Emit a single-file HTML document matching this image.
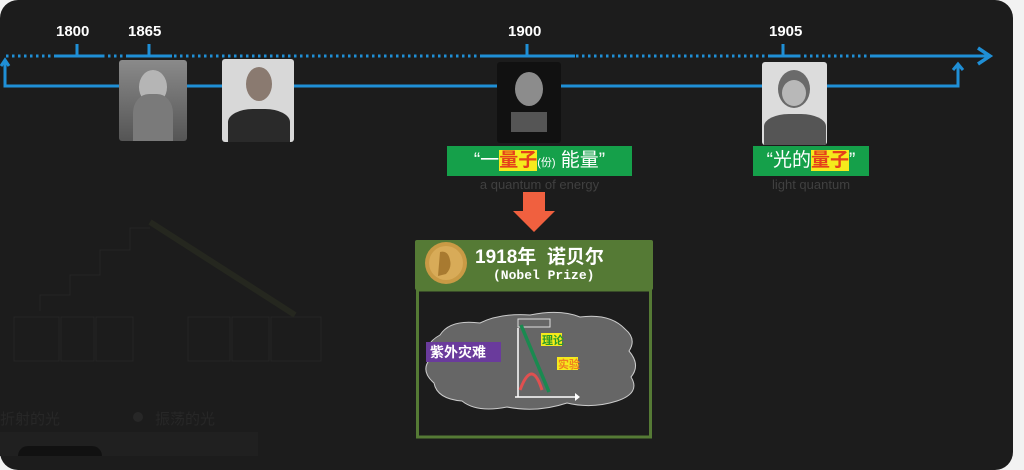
<!DOCTYPE html>
<html><head><meta charset="utf-8"><style>
*{margin:0;padding:0;box-sizing:border-box}
body{width:1024px;height:456px;background:#f2f2f2;overflow:hidden;position:relative;font-family:"Liberation Sans","Noto Sans CJK SC",sans-serif}
#panel{position:absolute;left:0;top:0;width:1013px;height:470px;background:#1c1c1c;border-radius:18px}
.a{position:absolute}
.yr{position:absolute;color:#fff;font-size:15px;font-weight:bold;top:23px}
.ph{position:absolute;border-radius:3px;overflow:hidden}
.lab{position:absolute;background:#15a04a;color:#fff;font-size:19px;text-align:center;line-height:30px;height:30px}
.hl{background:#f5ea1c;color:#e5401b;font-weight:bold}
.sub{position:absolute;color:#404040;font-size:13px;text-align:center}
</style></head><body>
<div id="panel"></div>
<svg class="a" style="left:0;top:0" width="1024" height="456">
 <g stroke="#252525" fill="none" stroke-width="1">
  <rect x="14" y="317" width="45" height="44"/><rect x="61" y="317" width="33" height="44"/><rect x="96" y="317" width="37" height="44"/>
  <rect x="188" y="317" width="42" height="44"/><rect x="232" y="317" width="37" height="44"/><rect x="271" y="317" width="50" height="44"/>
  <polyline points="40,311 40,295 70,295 70,275 100,275 100,250 130,250 130,228 150,228"/>
  <line x1="150" y1="222" x2="295" y2="315" stroke="#25271f" stroke-width="6"/>
 </g>
 <text x="0" y="424" fill="#272727" font-size="15" font-family="Noto Sans CJK SC">折射的光</text>
 <circle cx="138" cy="417" r="5" fill="#272727"/>
 <text x="155" y="424" fill="#272727" font-size="15" font-family="Noto Sans CJK SC">振荡的光</text>
 <rect x="0" y="432" width="258" height="30" fill="#202020"/>
 <rect x="18" y="446" width="84" height="20" rx="10" fill="#111"/>
 <g stroke="#1f8fd6" stroke-width="3" fill="none">
  <line x1="6" y1="56" x2="985" y2="56" stroke-dasharray="2.5 3.5"/>
  <line x1="55" y1="56" x2="102" y2="56"/><line x1="77" y1="44" x2="77" y2="56"/>
  <line x1="126" y1="56" x2="172" y2="56"/><line x1="149" y1="44" x2="149" y2="56"/>
  <line x1="480" y1="56" x2="575" y2="56"/><line x1="527" y1="44" x2="527" y2="56"/>
  <line x1="770" y1="56" x2="798" y2="56"/><line x1="783" y1="44" x2="783" y2="56"/>
  <line x1="872" y1="56" x2="988" y2="56"/>
  <polyline points="978,48 990,56 978,64" stroke-width="3.5"/>
  <polyline points="5,60 5,86 958,86 958,66"/>
  <polyline points="1,66 5,60 9,66"/>
  <polyline points="953,70 958,64 963,70"/>
 </g>
 <polygon points="523,192 545,192 545,211 555,211 534,232 513,211 523,211" fill="#f0603f"/>
 <rect x="415" y="240" width="238" height="50" fill="#557a35" rx="2"/>
 <rect x="417.5" y="290" width="233" height="147" fill="#1c1c1c" stroke="#557a35" stroke-width="3"/>
 <circle cx="446" cy="263" r="21" fill="#c99a45"/>
 <circle cx="446" cy="263" r="17" fill="#d8ab58"/>
 <path d="M440,252 q8,-2 10,8 q2,8 -4,14 l-8,2 z" fill="#a87a30"/>
 <text x="475" y="263" fill="#fff" font-size="19" font-weight="bold" font-family="Liberation Sans,Noto Sans CJK SC" xml:space="preserve">1918年  诺贝尔</text>
 <text x="493" y="279" fill="#fff" font-size="13" font-weight="bold" font-family="Liberation Mono,monospace">(Nobel Prize)</text>
 <path d="M440,335 q10,-16 40,-12 q20,-10 50,-8 q30,-6 50,2 q30,-4 45,12 q12,10 4,22 q12,14 2,26 q10,16 -14,24 q-25,8 -50,2 q-30,10 -60,4 q-30,6 -45,-6 q-25,-2 -28,-18 q-14,-12 -4,-24 q-8,-14 10,-24z" fill="#666" stroke="#ccc" stroke-width="1"/>
 <rect x="518" y="319" width="32" height="8" fill="none" stroke="#ddd" stroke-width="1"/>
 <rect x="426" y="342" width="75" height="20" fill="#6a3b9c"/>
 <text x="430" y="357" fill="#fff" font-size="14" font-weight="bold" font-family="Noto Sans CJK SC">紫外灾难</text>
 <line x1="518" y1="397" x2="518" y2="328" stroke="#fff" stroke-width="1.5"/>
 <line x1="515" y1="397" x2="575" y2="397" stroke="#fff" stroke-width="1.5"/>
 <polygon points="575,393 580,397 575,401" fill="#fff"/>
 <path d="M521,325 L549,392" stroke="#1a8a50" stroke-width="3.5" fill="none"/>
 <path d="M520,390 q12,-32 22,0" stroke="#e05050" stroke-width="3" fill="none"/>
 <rect x="541" y="333" width="21" height="13" fill="#f5ea1c"/>
 <text x="542" y="344" fill="#2a9a2a" font-size="11" font-weight="bold" font-family="Noto Sans CJK SC">理论</text>
 <rect x="557" y="357" width="21" height="13" fill="#f5ea1c"/>
 <text x="558" y="368" fill="#f08020" font-size="11" font-weight="bold" font-family="Noto Sans CJK SC">实验</text>
</svg>
<div class="yr" style="left:56px">1800</div>
<div class="yr" style="left:128px">1865</div>
<div class="yr" style="left:508px">1900</div>
<div class="yr" style="left:769px">1905</div>
<div class="ph" style="left:119px;top:60px;width:68px;height:81px;background:linear-gradient(#8a8a8a,#555)"><div class="a" style="left:20px;top:10px;width:28px;height:34px;border-radius:50%;background:#b5b5b5"></div><div class="a" style="left:14px;top:34px;width:40px;height:47px;border-radius:40% 40% 0 0;background:#7a7a7a"></div></div>
<div class="ph" style="left:222px;top:59px;width:72px;height:83px;background:#d8d8d8"><div class="a" style="left:24px;top:8px;width:26px;height:34px;border-radius:50%;background:#8a7a70"></div><div class="a" style="left:6px;top:50px;width:62px;height:33px;border-radius:40% 40% 0 0;background:#2a2a2a"></div></div>
<div class="ph" style="left:497px;top:62px;width:64px;height:81px;background:#111"><div class="a" style="left:18px;top:10px;width:28px;height:34px;border-radius:50%;background:#8c8c8c"></div><div class="a" style="left:14px;top:50px;width:36px;height:20px;background:#555"></div></div>
<div class="ph" style="left:762px;top:62px;width:65px;height:83px;background:#dcdcdc"><div class="a" style="left:16px;top:8px;width:32px;height:38px;border-radius:50%;background:#6a6a6a"></div><div class="a" style="left:20px;top:18px;width:24px;height:26px;border-radius:50%;background:#b8b8b8"></div><div class="a" style="left:2px;top:52px;width:62px;height:31px;border-radius:40% 40% 0 0;background:#555"></div></div>
<div class="lab" style="left:447px;top:146px;width:185px">“一<span class="hl">量子</span><span style="font-size:11px">(份)</span> 能量”</div>
<div class="sub" style="left:447px;top:177px;width:185px">a quantum of energy</div>
<div class="lab" style="left:753px;top:146px;width:116px">“光的<span class="hl">量子</span>”</div>
<div class="sub" style="left:753px;top:177px;width:116px">light quantum</div>
</body></html>
